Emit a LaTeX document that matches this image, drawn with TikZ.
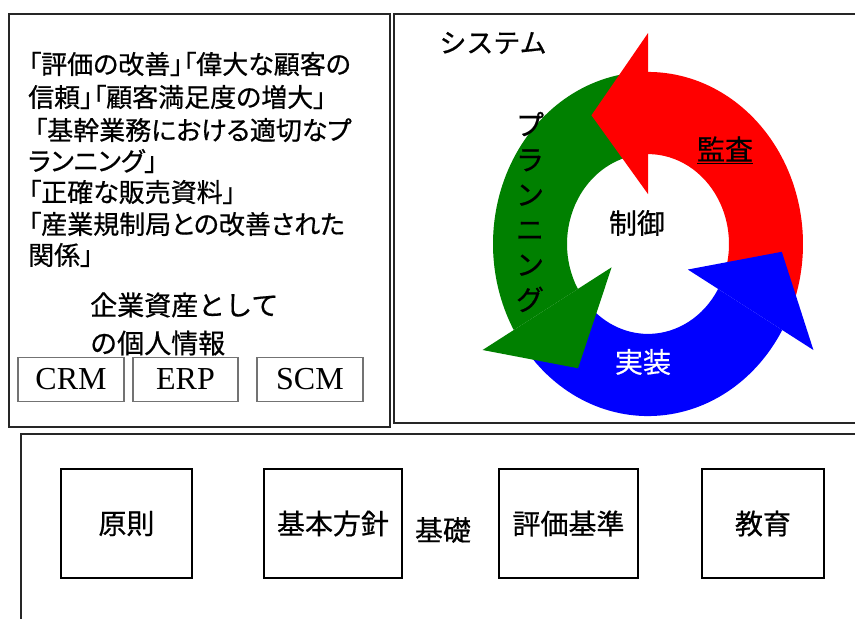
\documentclass[tikz,border=0pt]{standalone}
\usepackage{fontspec}
\setmainfont{Liberation Serif}
\newfontfamily\jp{Noto Sans CJK JP}[FakeBold=0.6]
\newfontfamily\jpp{Noto Sans CJK JP}[RawFeature=+palt,FakeBold=0.6]
\definecolor{ringred}{RGB}{255,0,0}
\definecolor{ringgreen}{RGB}{0,128,0}
\definecolor{ringblue}{RGB}{0,0,255}
\begin{document}
\begin{tikzpicture}[x=1pt,y=-1pt,
  frame/.style={draw=black!85, line width=2.8pt},
  sysbox/.style={draw=black!55, line width=1.2pt, minimum width=105pt, minimum height=44pt, inner sep=0pt, font=\fontsize{32}{32}\selectfont},
  lefttext/.style={anchor=west, inner sep=0pt, font=\jpp\fontsize{26}{26}\selectfont},
  assettext/.style={anchor=west, inner sep=0pt, font=\jp\fontsize{27}{27}\selectfont},
  basebox/.style={draw=black, line width=2.6pt, minimum height=109pt, inner sep=0pt, font=\jp\fontsize{28}{28}\selectfont},
  ringtext/.style={inner sep=0pt, font=\jp\fontsize{28}{28}\selectfont}]
\useasboundingbox (0,0) rectangle (855,619);
\clip (0,0) rectangle (855,619);
\fill[white] (0,0) rectangle (855,619);

% frames
\draw[frame] (9,14) rectangle (390,427);
\draw[frame] (394,14) rectangle (880,423);
\draw[frame] (21,434) rectangle (880,650);

% left panel text
\node[lefttext] (l1) at (28,64) {「評価の改善」「偉大な顧客の};
\node[lefttext] (l2) at (28,97) {信頼」「顧客満足度の増大」};
\node[lefttext] (l3) at (28,130) {\hspace{6pt}「基幹業務における適切なプ};
\node[lefttext] (l4) at (28,161) {ランニング」};
\node[lefttext] (l5) at (28,192) {「正確な販売資料」};
\node[lefttext] (l6) at (28,224) {「産業規制局との改善された};
\node[lefttext] (l7) at (28,255) {関係」};
\node[assettext] (a1) at (90,305) {企業資産として};
\node[assettext] (a2) at (90,343) {の個人情報};

\node[sysbox, minimum width=106pt] (crm) at (71,379.5) {CRM};
\node[sysbox, minimum width=105pt] (erp) at (185.5,379.5) {ERP};
\node[sysbox, minimum width=106pt] (scm) at (310,379.5) {SCM};

% ring
\begin{scope}[shift={(648,244)}, yscale=1.11]
  \fill[ringred] (-20:155pt) arc[start angle=-20,end angle=90,radius=155pt]
     -- (90:81pt) arc[start angle=90,end angle=-20,radius=81pt] -- cycle;
  \fill[ringgreen] (100:155pt) arc[start angle=100,end angle=210,radius=155pt]
     -- (210:81pt) arc[start angle=210,end angle=100,radius=81pt] -- cycle;
  \fill[ringblue] (220:155pt) arc[start angle=220,end angle=330,radius=155pt]
     -- (330:81pt) arc[start angle=330,end angle=220,radius=81pt] -- cycle;
  \fill[ringred] (90:45pt) -- (90:190pt) -- (116:129pt) -- cycle;
  \fill[ringgreen] (210:42pt) -- (210:191pt) -- (238:132pt) -- cycle;
  \fill[ringblue] (330:46pt) -- (330:191pt) -- (357:134pt) -- cycle;
\end{scope}

\node[ringtext, font=\jp\fontsize{27}{27}\selectfont] (sys) at (493,43) {システム};
\node[ringtext] (kansa) at (725,150) {\underline{監査}};
\node[ringtext] (seigyo) at (637,223) {制御};
\node[ringtext, text=white] (jisso) at (643,362) {実装};
\node[ringtext, align=center, font=\jp\fontsize{28}{35}\selectfont] (plan) at (530,212) {プ\\ラ\\ン\\ニ\\ン\\グ};

% foundation
\node[basebox, minimum width=131pt] (gensoku) at (126.5,523.5) {原則};
\node[basebox, minimum width=138pt] (hoshin) at (333,523.5) {基本方針};
\node[basebox, minimum width=139pt] (hyoka) at (568.5,523.5) {評価基準};
\node[basebox, minimum width=122pt] (kyoiku) at (763,523.5) {教育};
\node[ringtext] (kiso) at (443,530) {基礎};
\end{tikzpicture}
\end{document}
